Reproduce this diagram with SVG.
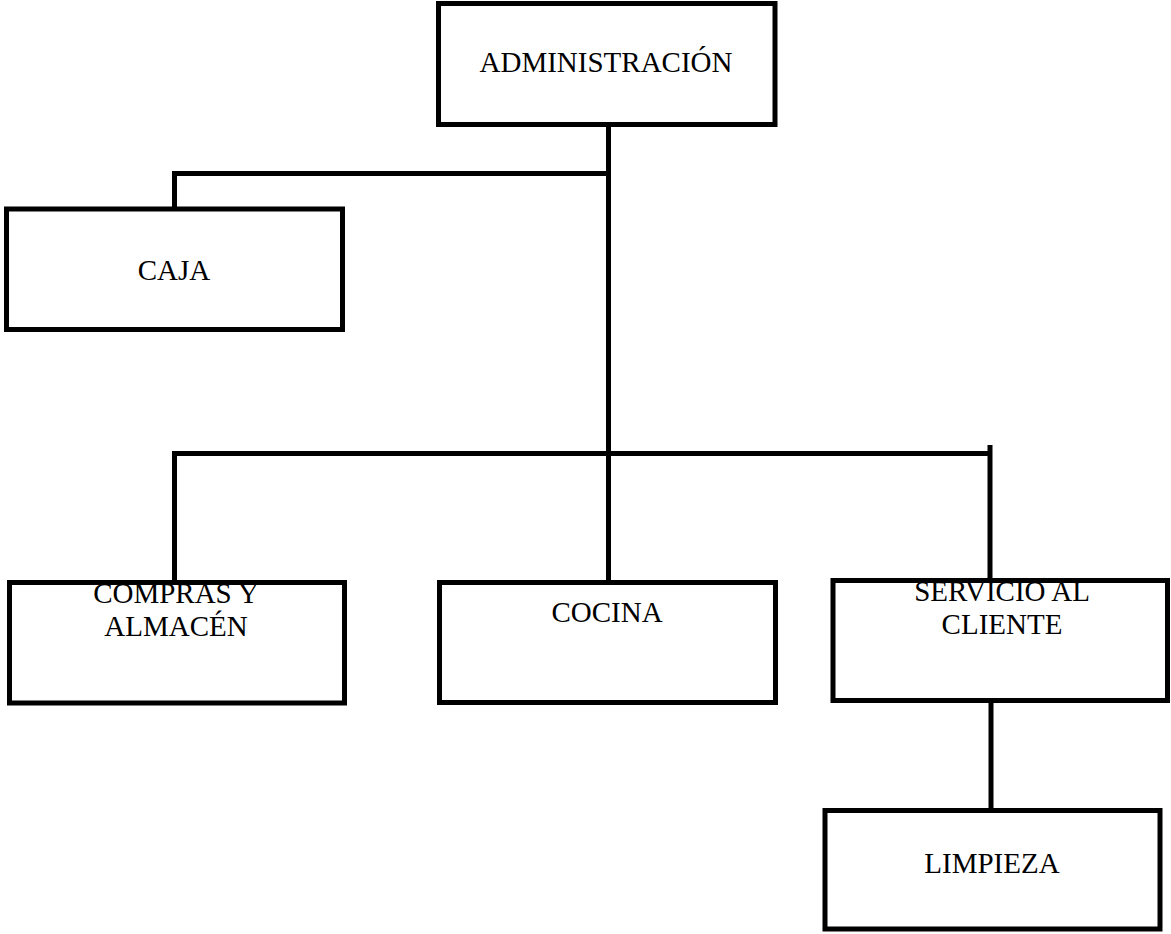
<svg xmlns="http://www.w3.org/2000/svg" width="1171" height="934" viewBox="0 0 1171 934">
<style>
.box{fill:#fff;stroke:#000;stroke-width:5}
.ln{fill:none;stroke:#000;stroke-width:5}
.t{font-family:"Liberation Serif","Times New Roman",serif;font-size:29px;fill:#000;text-anchor:middle}
</style>
<rect width="1171" height="934" fill="#fff"/>
<g id="connectors">
<path class="ln" d="M608.5,124 V705"/>
<path class="ln" d="M174.5,209 V173.5 H608.5"/>
<path class="ln" d="M174.5,582 V453.5 H990"/>
<path class="ln" d="M990,445 V580"/>
<path class="ln" d="M991,700 V810"/>
</g>
<g id="admin"><rect class="box" x="438.5" y="3.5" width="336.5" height="121"/><text class="t" x="606" y="72">ADMINISTRACIÓN</text></g>
<g id="caja"><rect class="box" x="6.5" y="209" width="336" height="120.5"/><text class="t" x="174" y="280">CAJA</text></g>
<g id="compras"><rect class="box" x="9.5" y="582.5" width="335" height="120.5"/><text class="t" x="176" y="603">COMPRAS Y</text><text class="t" x="176" y="636">ALMACÉN</text></g>
<g id="cocina"><rect class="box" x="439.5" y="582.5" width="336" height="120"/><text class="t" x="607" y="622">COCINA</text></g>
<g id="servicio"><rect class="box" x="833" y="580.5" width="334.5" height="120"/><text class="t" x="1002" y="601">SERVICIO AL</text><text class="t" x="1002" y="634">CLIENTE</text></g>
<g id="limpieza"><rect class="box" x="825" y="810.5" width="335" height="118.5"/><text class="t" x="992" y="873">LIMPIEZA</text></g>
</svg>
